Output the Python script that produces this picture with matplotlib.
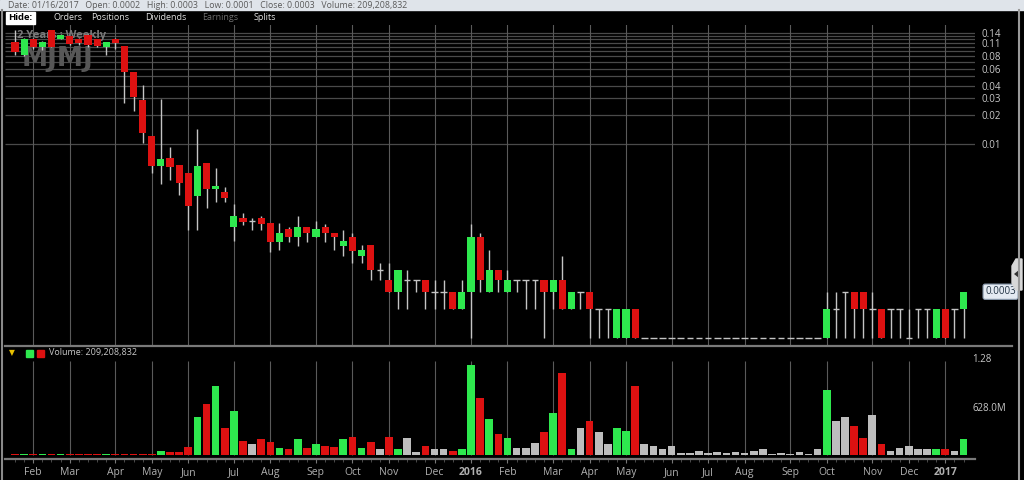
import numpy as np
import pandas as pd
import matplotlib
matplotlib.use("Agg")
import matplotlib.pyplot as plt
from matplotlib.transforms import blended_transform_factory
from matplotlib.patches import Rectangle, Polygon
from matplotlib.ticker import NullLocator, FixedLocator

plt.rcParams['font.family'] = ['Open Sans', 'DejaVu Sans']

# ---------------- data ----------------
start_date = "2015-01-19"   # first weekly bar (Monday)

opens = [0.113, 0.083, 0.121, 0.100, 0.150, 0.121, 0.130, 0.120, 0.133, 0.121,
         0.100, 0.121, 0.102, 0.055, 0.0284, 0.0121, 0.0059, 0.0072, 0.0061, 0.0050,
         0.0029, 0.0064, 0.0034, 0.0032, 0.0014, 0.00173, 0.0016, 0.00173, 0.00153, 0.00098,
         0.00133, 0.0011, 0.0014, 0.0011, 0.0014, 0.0012, 0.00089, 0.0011, 0.0007, 0.0009,
         0.0005, 0.0004, 0.0003, 0.0004, 0.0004, 0.0004, 0.0003, 0.0003, 0.0003, 0.0002,
         0.0003, 0.0011, 0.0003, 0.0005, 0.0003, 0.0004, 0.0004, 0.0004, 0.0004, 0.0003,
         0.0004, 0.0002, 0.0003, 0.0003, 0.0002, 0.0002, 0.0001, 0.0001, 0.0002, 0.0001,
         0.0001, 0.0001, 0.0001, 0.0001, 0.0001, 0.0001, 0.0001, 0.0001, 0.0001, 0.0001,
         0.0001, 0.0001, 0.0001, 0.0001, 0.0001, 0.0001, 0.0001, 0.0001, 0.0001, 0.0001,
         0.0002, 0.0003, 0.0003, 0.0003, 0.0002, 0.0002, 0.0002, 0.0002, 0.0001, 0.0002,
         0.0002, 0.0001, 0.0002, 0.0002, 0.0002]
highs = [0.150, 0.125, 0.125, 0.115, 0.150, 0.135, 0.130, 0.125, 0.135, 0.121,
         0.113, 0.124, 0.102, 0.055, 0.041, 0.0121, 0.029, 0.0093, 0.0061, 0.0050,
         0.0143, 0.0064, 0.0057, 0.0036, 0.0024, 0.00195, 0.00173, 0.0018, 0.00153, 0.00153,
         0.0014, 0.0018, 0.0014, 0.0016, 0.0015, 0.0012, 0.0013, 0.0012, 0.0009, 0.0009,
         0.0006, 0.0006, 0.0005, 0.0005, 0.0004, 0.0004, 0.0004, 0.0004, 0.0003, 0.0004,
         0.0015, 0.0012, 0.0008, 0.0005, 0.0005, 0.0004, 0.0004, 0.0004, 0.0004, 0.0004,
         0.0007, 0.0003, 0.0003, 0.0003, 0.0002, 0.0002, 0.0002, 0.0002, 0.0002, 0.0001,
         0.0001, 0.0001, 0.0001, 0.0001, 0.0001, 0.0001, 0.0001, 0.0001, 0.0001, 0.0001,
         0.0001, 0.0001, 0.0001, 0.0001, 0.0001, 0.0001, 0.0001, 0.0001, 0.0001, 0.0003,
         0.0003, 0.0003, 0.0003, 0.0003, 0.0003, 0.0002, 0.0002, 0.0002, 0.0002, 0.0002,
         0.0002, 0.0002, 0.0002, 0.0002, 0.0003]
lows = [0.083, 0.080, 0.095, 0.093, 0.100, 0.120, 0.105, 0.105, 0.100, 0.100,
        0.083, 0.095, 0.0265, 0.022, 0.0102, 0.0050, 0.0039, 0.0043, 0.0030, 0.0013,
        0.0013, 0.0022, 0.0025, 0.0025, 0.0010, 0.00146, 0.0013, 0.0013, 0.00077, 0.0008,
        0.00098, 0.00089, 0.00098, 0.0011, 0.00098, 0.0008, 0.0007, 0.0006, 0.0006, 0.0004,
        0.0004, 0.0003, 0.0002, 0.0002, 0.0003, 0.0002, 0.0002, 0.0002, 0.0002, 0.0002,
        0.0001, 0.0003, 0.0003, 0.0003, 0.0003, 0.0003, 0.0002, 0.0002, 0.0001, 0.0002,
        0.0002, 0.0002, 0.0002, 0.0001, 0.0001, 0.0001, 0.0001, 0.0001, 0.0001, 0.0001,
        0.0001, 0.0001, 0.0001, 0.0001, 0.0001, 0.0001, 0.0001, 0.0001, 0.0001, 0.0001,
        0.0001, 0.0001, 0.0001, 0.0001, 0.0001, 0.0001, 0.0001, 0.0001, 0.0001, 0.0001,
        0.0001, 0.0001, 0.0001, 0.0001, 0.0001, 0.0001, 0.0001, 0.0001, 0.0001, 0.0001,
        0.0001, 0.0001, 0.0001, 0.0001, 0.0001]
closes = [0.089, 0.121, 0.100, 0.113, 0.100, 0.133, 0.107, 0.110, 0.105, 0.102,
          0.113, 0.110, 0.055, 0.0305, 0.0130, 0.0059, 0.0070, 0.0058, 0.0040, 0.0023,
          0.0059, 0.0034, 0.0037, 0.0028, 0.0018, 0.00157, 0.0016, 0.0015, 0.00098, 0.0012,
          0.0011, 0.0014, 0.0012, 0.00133, 0.0012, 0.0011, 0.0010, 0.00079, 0.0008, 0.0005,
          0.0005, 0.0003, 0.0005, 0.0004, 0.0004, 0.0003, 0.0003, 0.0003, 0.0002, 0.0003,
          0.0011, 0.0004, 0.0005, 0.0004, 0.0004, 0.0004, 0.0004, 0.0004, 0.0003, 0.0004,
          0.0002, 0.0003, 0.0003, 0.0002, 0.0002, 0.0002, 0.0002, 0.0002, 0.0001, 0.0001,
          0.0001, 0.0001, 0.0001, 0.0001, 0.0001, 0.0001, 0.0001, 0.0001, 0.0001, 0.0001,
          0.0001, 0.0001, 0.0001, 0.0001, 0.0001, 0.0001, 0.0001, 0.0001, 0.0001, 0.0002,
          0.0002, 0.0003, 0.0002, 0.0002, 0.0002, 0.0001, 0.0002, 0.0002, 0.0001, 0.0002,
          0.0002, 0.0002, 0.0001, 0.0002, 0.0003]
volumes_m = [14, 14, 14, 14, 14, 14, 14, 14, 14, 14,
             14, 14, 14, 14, 14, 14, 55, 40, 40, 110,
             513, 683, 925, 362, 594, 188, 147, 214, 174, 98,
             85, 219, 98, 152, 121, 112, 214, 241, 98, 174,
             80, 241, 85, 228, 40, 121, 85, 80, 58, 80,
             1206, 768, 482, 281, 228, 98, 98, 161, 313, 567,
             1103, 85, 362, 460, 313, 147, 362, 322, 925, 152,
             121, 85, 121, 22, 22, 54, 22, 40, 22, 40,
             22, 58, 80, 13, 22, 9, 40, 13, 80, 871,
             460, 513, 389, 232, 536, 152, 58, 94, 121, 80,
             80, 80, 87, 49, 209.208832]

month_labels = ["Feb", "Mar", "Apr", "May", "Jun", "Jul", "Aug", "Sep", "Oct", "Nov", "Dec",
                "2016", "Feb", "Mar", "Apr", "May", "Jun", "Jul", "Aug", "Sep", "Oct", "Nov",
                "Dec", "2017"]
price_grid = [0.01, 0.02, 0.03, 0.04, 0.05, 0.06, 0.07, 0.08, 0.09, 0.10, 0.11, 0.12, 0.13, 0.14]
price_ticks = [0.14, 0.11, 0.08, 0.06, 0.04, 0.03, 0.02, 0.01]
price_tick_labels = ["0.14", "0.11", "0.08", "0.06", "0.04", "0.03", "0.02", "0.01"]
vol_ticks = [1.28e9, 628.0e6]
vol_tick_labels = ["1.28", "628.0M"]
last_price_label = "0.0003"
header_text = ("Date: 01/16/2017   Open: 0.0002   High: 0.0003   Low: 0.0001   "
               "Close: 0.0003   Volume: 209,208,832")

# ---------------- styling ----------------
GREEN = '#2ee84e'
RED = '#dd1111'
GRAYBAR = '#bdbdbd'
WICK = '#c4c4c4'
GRID = '#4a4a4a'
VGRID = '#5a5a5a'
TXT = '#c8c8c8'

W, H = 1024, 480
fig = plt.figure(figsize=(W / 100, H / 100), dpi=100, facecolor='black')


def rect(x0, y0, x1, y1):
    return [x0 / W, 1 - y1 / H, (x1 - x0) / W, (y1 - y0) / H]


def ftext(x, y, s, **kw):
    return fig.text(x / W, 1 - y / H, s, **kw)


o = np.array(opens)
h = np.array(highs)
l = np.array(lows)
c = np.array(closes)
vol = np.array(volumes_m) * 1e6
n = len(o)
x = np.arange(n)
dates = pd.date_range(start_date, periods=n, freq='7D')
month_pos = [i for i in range(1, n) if dates[i].month != dates[i - 1].month]

up = c > o
dn = c < o
eq = ~(up | dn)
xlim = (-1.096, 105.26)

# ---------------- price panel ----------------
ax = fig.add_axes(rect(5, 25, 975, 345))
ax.set_facecolor('black')
ax.set_yscale('log')
ax.set_xlim(*xlim)
ax.set_ylim(8.47e-5, 0.1686)
for s in ax.spines.values():
    s.set_visible(False)
ax.hlines(price_grid, xlim[0], xlim[1], color=GRID, lw=0.9, zorder=1)
for mp in month_pos:
    ax.axvline(mp, color=VGRID, lw=0.8, zorder=1)

ax.text(0.012, 0.985, "2 Years : Weekly", transform=ax.transAxes, color='#7a7a7a',
        fontsize=8, fontweight='bold', va='top', ha='left', zorder=1.5)
ax.text(0.017, 0.935, "MJMJ", transform=ax.transAxes, color='#575757',
        fontsize=19, fontweight='bold', va='top', ha='left', zorder=1.5,
        family=['DejaVu Sans'])

ax.vlines(x, l, h, color=WICK, lw=1.0, zorder=2)
bot = np.minimum(o, c)
top = np.maximum(o, c)
ax.bar(x[up], (top - bot)[up], bottom=bot[up], width=0.78, color=GREEN, zorder=3)
ax.bar(x[dn], (top - bot)[dn], bottom=bot[dn], width=0.78, color=RED, zorder=3)
ax.hlines(o[eq], x[eq] - 0.36, x[eq] + 0.36, color=WICK, lw=1.0, zorder=3)

ax.set_xticks([])
ax.yaxis.tick_right()
ax.yaxis.set_minor_locator(NullLocator())
ax.set_yticks(price_ticks)
ax.set_yticklabels(price_tick_labels)
ax.tick_params(axis='y', length=0, pad=5, labelsize=7, colors=TXT)

bt = blended_transform_factory(ax.transAxes, ax.transData)
ax.text(1.0105, c[-1], last_price_label, transform=bt, color='#223344', fontsize=7,
        va='center', ha='left',
        bbox=dict(boxstyle='round,pad=0.22', fc='#e4eaf2', ec='#8a9aae', lw=0.8))

# ---------------- volume panel ----------------
axv = fig.add_axes(rect(5, 348, 975, 459))
axv.set_facecolor('black')
axv.set_xlim(*xlim)
axv.set_ylim(-53.6e6, 1434e6)
for s in axv.spines.values():
    s.set_visible(False)
axv.spines['bottom'].set_visible(True)
axv.spines['bottom'].set_color('#7a7a7a')
axv.spines['bottom'].set_linewidth(1.6)
axv.vlines(month_pos, 0, 1.26e9, color=VGRID, lw=0.8, zorder=1)
vcol = np.where(up, GREEN, np.where(dn, RED, GRAYBAR))
axv.bar(x, vol, width=0.84, color=vcol, zorder=3)

axv.set_yticks([])
axv.set_xticks(month_pos)
axv.set_xticklabels(month_labels)
for lbl in axv.get_xticklabels():
    if lbl.get_text().isdigit():
        lbl.set_fontweight('bold')
        lbl.set_color('#d8d8d8')
axv.xaxis.set_minor_locator(FixedLocator(x))
axv.tick_params(axis='x', which='major', length=3, width=0.8, color='#777777',
                pad=3, labelsize=7.5, labelcolor='#b0b0b0')
axv.tick_params(axis='x', which='minor', length=2, width=0.6, color='#555555')

bv = blended_transform_factory(axv.transAxes, axv.transData)
for v, t in zip(vol_ticks, vol_tick_labels):
    axv.text(0.9975, v, t, transform=bv, color=TXT, fontsize=7, va='center', ha='left')

# volume legend row
ftext(12, 352.5, "\u25BC", color='#e8c000', fontsize=5.5, va='center', ha='center',
      family=['DejaVu Sans'])
fig.patches.append(Rectangle(((26) / W, 1 - 356.5 / H), 7 / W, 7 / H, color=GREEN,
                             transform=fig.transFigure))
fig.patches.append(Rectangle(((37) / W, 1 - 356.5 / H), 7 / W, 7 / H, color=RED,
                             transform=fig.transFigure))
ftext(49, 353, "Volume: {:,}".format(int(round(vol[-1]))), color=TXT, fontsize=6.5,
      va='center', ha='left')

# separator between panels
fig.add_artist(plt.Line2D([5 / W, 1012 / W], [1 - 345.5 / H, 1 - 345.5 / H],
                          color='#7a7a7a', lw=1.6))

# ---------------- header ----------------
fig.patches.append(Rectangle((0, 1 - 10 / H), 1, 10 / H, color='#dfe4ea',
                             transform=fig.transFigure))
ftext(8, 5.2, header_text, color='#5a5a5a', fontsize=6.3, va='center', ha='left')
fig.patches.append(Rectangle((6 / W, 1 - 24 / H), 29 / W, 12 / H, color='white',
                             transform=fig.transFigure))
ftext(20.5, 18, "Hide:", color='black', fontsize=6.8, fontweight='bold',
      va='center', ha='center')
for label, px, col in [("Orders", 53, '#e0e0e0'), ("Positions", 91, '#e0e0e0'),
                       ("Dividends", 145, '#e0e0e0'), ("Earnings", 202, '#6e6e6e'),
                       ("Splits", 254, '#e0e0e0')]:
    ftext(px, 17, label, color=col, fontsize=6.5, va='center', ha='left')

# borders and right tab
fig.add_artist(plt.Line2D([2 / W, 2 / W], [0, 1 - 10 / H], color='#8a8a8a', lw=1.5))
fig.add_artist(plt.Line2D([1019 / W, 1019 / W], [0, 1 - 10 / H], color='#9a9a9a', lw=1.5))
tab = Polygon([[1012 / W, 1 - 266 / H], [1016 / W, 1 - 259 / H], [1022 / W, 1 - 259 / H],
               [1022 / W, 1 - 290 / H], [1016 / W, 1 - 290 / H], [1012 / W, 1 - 283 / H]],
              closed=True, fc='#d8d8d8', ec='#d8d8d8', transform=fig.transFigure)
fig.patches.append(tab)
tri = Polygon([[1014 / W, 1 - 274 / H], [1019 / W, 1 - 270 / H], [1019 / W, 1 - 278 / H]],
              closed=True, fc='#333333', transform=fig.transFigure)
fig.patches.append(tri)

fig.savefig("out.png", dpi=100, facecolor='black')
